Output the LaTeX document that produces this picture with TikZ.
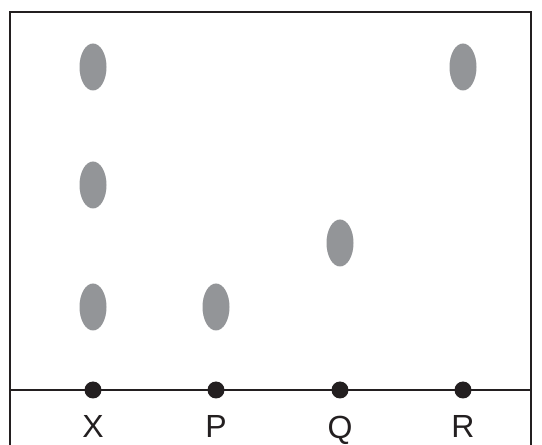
\documentclass[tikz,border=0pt]{standalone}
\usepackage{fontspec}
\setmainfont{Liberation Sans}
\usepackage{xcolor}
\usetikzlibrary{shapes.geometric, positioning}
\definecolor{spotgrey}{HTML}{939598}
\definecolor{inkdark}{HTML}{231F20}

\begin{document}
\begin{tikzpicture}[x=0.5pt,y=0.5pt]
\tikzset{
  spot/.style={ellipse,fill=spotgrey,draw=none,inner sep=0pt,minimum width=13.5pt,minimum height=23.5pt},
  origin/.style={circle,fill=inkdark,draw=none,inner sep=0pt,minimum size=8.5pt},
  lbl/.style={font=\fontsize{16}{19}\selectfont,text=inkdark,below=5pt}
}
\useasboundingbox (0,0) rectangle (542,445);
% paper
\draw[inkdark,line width=1.3pt] (10,0) -- (10,433) -- (531,433) -- (531,0);
\coordinate (bl) at (10,55);
\coordinate (br) at (531,55);
\draw[inkdark,line width=0.6pt] (bl) -- (br);
% origin dots and labels
\foreach \n/\x in {X/93,P/216,Q/340,R/463}{
  \node[origin] (o\n) at (\x,55) {};
  \node[lbl] (l\n) at (o\n.south) {\n};
}
% spots
\node[spot] (x1) at (93,138) {};
\node[spot] (x2) at (93,260) {};
\node[spot] (x3) at (93,378) {};
\node[spot] (p1) at (216,138) {};
\node[spot] (q1) at (340,202) {};
\node[spot] (r1) at (463,378) {};
\end{tikzpicture}
\end{document}
